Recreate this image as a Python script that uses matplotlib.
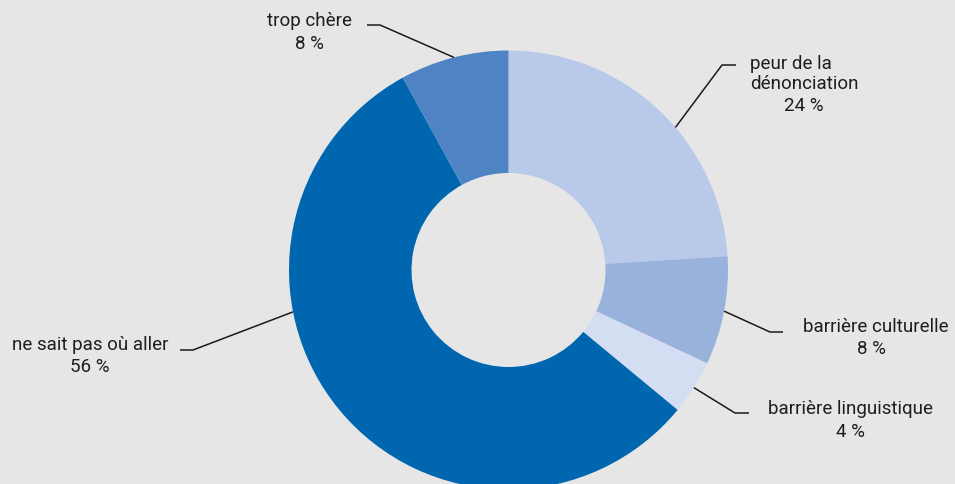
import numpy as np
import matplotlib.pyplot as plt

labels = ["peur de la\ndénonciation", "barrière culturelle", "barrière linguistique",
          "ne sait pas où aller", "trop chère"]
values = [24, 8, 4, 56, 8]
colors = ["#b9c9e9", "#98b2dc", "#d4def2", "#0066b0", "#4f84c4"]

# layout of the leader lines (anchor angle on the ring, elbow, end) and texts
anchor_deg = [40.5, None, None, 191, None]
elbows = [(722, 65), (770, 332), (735, 413), (193, 350), (380, 25)]
ends = [(736, 65), (783, 332), (749, 413), (180, 350), (367, 25)]
label_pos = [(750, 74), (876, 327), (850, 409), (90, 345), (309, 21)]
label_ha = ["left", "center", "center", "center", "center"]
value_pos = [(804, 106), (871, 349), (850, 432), (90, 367), (309, 44)]

W, H = 955, 484
cx, cy, R = 508.5, H - 270, 219.5

plt.rcParams['font.family'] = ['Roboto', 'DejaVu Sans']
fig = plt.figure(figsize=(W / 100, H / 100), dpi=100, facecolor="#e6e6e6")
ax = fig.add_axes([0, 0, 1, 1])
ax.set_facecolor("#e6e6e6")

wedges, _ = ax.pie(values, colors=colors, startangle=90, counterclock=False,
                   center=(cx, cy), radius=R, frame=True,
                   wedgeprops=dict(width=R - 97, linewidth=0))
ax.set_xlim(0, W)
ax.set_ylim(0, H)
ax.set_aspect("equal")
ax.axis("off")

for i, w in enumerate(wedges):
    ang = anchor_deg[i] if anchor_deg[i] is not None else (w.theta1 + w.theta2) / 2
    a = np.deg2rad(ang)
    sx, sy = cx + R * np.cos(a), cy + R * np.sin(a)
    ex, ey = elbows[i]
    fx, fy = ends[i]
    ax.plot([sx, ex, fx], [sy, H - ey, H - fy], color="#1a1a1a", lw=1.1,
            solid_capstyle="butt", zorder=5)
    lx, ly = label_pos[i]
    ax.text(lx, H - ly, labels[i], ha=label_ha[i], va="center",
            multialignment=label_ha[i], fontsize=13.5, color="#1e1e1e", linespacing=1.2)
    vx, vy = value_pos[i]
    ax.text(vx, H - vy, f"{values[i]} %", ha="center", va="center",
            fontsize=13.5, color="#1e1e1e")

fig.savefig("out.png", dpi=100, facecolor=fig.get_facecolor())
